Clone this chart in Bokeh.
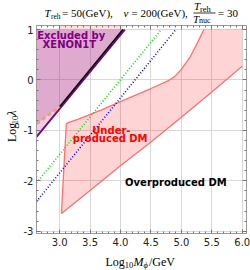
import math
from bokeh.plotting import figure
from bokeh.models import Label, LinearAxis, SingleIntervalTicker
from bokeh.layouts import column, row
from bokeh.embed import file_html
from bokeh.resources import INLINE
from bokeh.core.properties import value

# ---------------- data ----------------
x_lim = [2.62, 6.07]
y_lim = [-3.045, 1.08]
x_ticks = [3.0, 3.5, 4.0, 4.5, 5.0, 5.5, 6.0]
x_tick_labels = ["3.0", "3.5", "4.0", "4.5", "5.0", "5.5", "6.0"]
y_ticks = [-3, -2, -1, 0, 1]
y_tick_labels = ["-3", "-2", "-1", "0", "1"]

# under-produced DM region boundaries
upper_x = [3.11, 3.14, 3.30, 3.68, 4.00, 4.50, 4.78, 4.90, 5.00, 5.15, 5.27, 5.37]
upper_y = [-0.87, -0.845, -0.78, -0.60, -0.43, -0.17, -0.02, 0.08, 0.21, 0.47, 0.75, 1.00]
left_x = [3.03, 3.065, 3.11]
left_y = [-2.65, -1.85, -0.87]
lower_x = [3.03, 3.50, 4.00, 4.50, 5.00, 5.50, 6.00]
lower_y = [-2.65, -2.19, -1.70, -1.23, -0.74, -0.24, 0.27]
region_top = 1.0
region_right = 6.0

# XENON1T exclusion
xenon_x = [2.62, 4.07]
xenon_y = [-1.13, 1.00]
black_x = [3.00, 4.04]
black_y = [-0.53, 1.00]
orange_x = [2.62, 3.00]
orange_y = [-0.87, -0.53]
xenon_at3 = -0.57
band_x = [3.00, 4.05]

# dotted lines
green_x = [2.62, 4.67]
green_y = [-2.04, 1.00]
blue_x = [2.62, 4.91]
blue_y = [-2.41, 1.00]

SERIF = "Liberation Serif"

# ---------------- main figure ----------------
p = figure(width=230, height=225, x_range=(x_lim[0], x_lim[1]), y_range=(y_lim[0], y_lim[1]),
           output_backend="svg", toolbar_location=None,
           min_border_left=15, min_border_right=4, min_border_top=0, min_border_bottom=17)
p.background_fill_color = "white"
p.border_fill_color = "white"
p.outline_line_color = "#9a9a9a"

def style_axis(ax, labels=True):
    ax.axis_line_color = "#9a9a9a"
    ax.major_tick_line_color = "#777777"
    ax.minor_tick_line_color = "#777777"
    ax.major_tick_in = 4
    ax.major_tick_out = 0
    ax.minor_tick_in = 2
    ax.minor_tick_out = 0
    if labels:
        ax.major_label_text_font = "DejaVu Sans"
        ax.major_label_text_font_size = "10px"
        ax.major_label_text_color = "#222222"
        ax.major_label_standoff = 2
    else:
        ax.major_label_text_font_size = "0px"
        ax.major_label_text_color = None
        ax.major_label_standoff = 0

p.xaxis.ticker = SingleIntervalTicker(interval=0.5, num_minor_ticks=5)
p.yaxis.ticker = SingleIntervalTicker(interval=1, num_minor_ticks=5)
p.xaxis.major_label_overrides = {t: l for t, l in zip(x_ticks, x_tick_labels)}
p.yaxis.major_label_overrides = {t: l for t, l in zip(y_ticks, y_tick_labels)}
style_axis(p.xaxis[0])
style_axis(p.yaxis[0])
p.xaxis.major_label_standoff = 4
p.yaxis.major_label_standoff = 3
top_ax = LinearAxis(ticker=SingleIntervalTicker(interval=0.5, num_minor_ticks=5))
right_ax = LinearAxis(ticker=SingleIntervalTicker(interval=1, num_minor_ticks=5))
style_axis(top_ax, False)
style_axis(right_ax, False)
p.add_layout(top_ax, "above")
p.add_layout(right_ax, "right")

p.xgrid.grid_line_color = "#d8d8d8"
p.ygrid.grid_line_color = "#d8d8d8"

# regions
poly_x = left_x + upper_x[1:] + [region_right] + lower_x[::-1]
poly_y = left_y + upper_y[1:] + [region_top] + lower_y[::-1]
p.patch(poly_x, poly_y, fill_color="#ff0000", fill_alpha=0.17, line_color=None)
line_x = upper_x[::-1] + left_x[::-1][1:] + lower_x[1:]
line_y = upper_y[::-1] + left_y[::-1][1:] + lower_y[1:]
p.line(line_x, line_y, line_color="#ff6f6f", line_width=1.3)

p.quad(left=band_x[0], right=band_x[1], bottom=region_top, top=y_lim[1],
       fill_color="#ff0000", fill_alpha=0.12, line_color=None)

ex_x = [xenon_x[0], black_x[1], black_x[0], orange_x[0]]
ex_y = [region_top, region_top, black_y[0], orange_y[0]]
p.patch(ex_x, ex_y, fill_color="#a8207c", fill_alpha=0.38, line_color=None)
lt_x = [orange_x[0], orange_x[1], orange_x[1], xenon_x[0]]
lt_y = [orange_y[0], orange_y[1], xenon_at3, xenon_y[0]]
p.patch(lt_x, lt_y, fill_color="#800080", fill_alpha=0.18, line_color=None)

p.line(green_x, green_y, line_color="#00e000", line_width=1.6, line_dash="1 2")
p.line(blue_x, blue_y, line_color="#0000ff", line_width=1.6, line_dash="1 2")

p.line(xenon_x, xenon_y, line_color="#800080", line_width=2)
p.line(black_x, black_y, line_color="black", line_width=1.6)
p.line(orange_x, orange_y, line_color="#f0a070", line_width=3, line_dash="4 3")

def lab(text, x, y, color):
    p.add_layout(Label(x=x, y=y, text=text, text_font="DejaVu Sans", text_font_size="10px",
                       text_font_style="bold", text_color=color, text_align="center",
                       text_baseline="middle"))

lab("Excluded by", 3.19, 0.89, "#800080")
lab("XENON1T", 3.16, 0.71, "#800080")
lab("Under-", 3.85, -1.0, "#ff0000")
lab("produced DM", 3.83, -1.17, "#ff0000")
lab("Overproduced DM", 4.91, -2.04, "black")

# ---------------- text strips (title / axis labels) ----------------
def strip(w, h):
    f = figure(width=w, height=h, x_range=(0, w), y_range=(h, 0), output_backend="svg",
               toolbar_location=None, x_axis_location=None, y_axis_location=None,
               min_border=0, min_border_left=0, min_border_right=0,
               min_border_top=0, min_border_bottom=0)
    f.grid.visible = False
    f.outline_line_color = None
    f.background_fill_color = "white"
    f.border_fill_color = "white"
    return f

def t(f, text, x, y, size, style="normal", angle=0.0):
    f.text(x=[x], y=[y], text=[text], text_font=value(SERIF), text_font_size=value(size),
           text_font_style=style, text_color="black", text_align="left",
           text_baseline="middle", angle=angle)

title = strip(250, 25)
t(title, "T", 44, 12.5, "11px", "italic")
t(title, "reh", 50.5, 16, "7.5px")
t(title, "= 50(GeV),", 61.5, 12.5, "11px")
t(title, "v", 123, 12.5, "11px", "italic")
t(title, "= 200(GeV),", 131, 12.5, "11px")
t(title, "T", 193.5, 5, "11px", "italic")
t(title, "reh", 199.5, 8, "8.5px")
title.segment(x0=[193], y0=[12.5], x1=[215], y1=[12.5], line_color="black", line_width=0.8)
t(title, "T", 192.5, 18.3, "11px", "italic")
t(title, "nuc", 198.5, 20.3, "8px")
t(title, "= 30", 217.5, 12.5, "11px")

ylab = strip(20, 225)
t(ylab, "Log", 11.7, 126, "12px", angle=math.pi / 2)
t(ylab, "10", 14.8, 106.7, "8.5px", angle=math.pi / 2)
t(ylab, "\u03bb", 11.7, 97.5, "12px", "italic", angle=math.pi / 2)

xlab = strip(250, 20)
t(xlab, "Log", 105, 11.3, "12px")
t(xlab, "10", 124.3, 14.5, "8.5px")
t(xlab, "M", 133, 11.3, "12px", "italic")
t(xlab, "\u03d5", 143, 14.5, "8.5px", "italic")
t(xlab, "/GeV", 148.5, 11.3, "12px")

layout = column(title, row(ylab, p), xlab)
open("out.html", "w").write(file_html(layout, INLINE))
